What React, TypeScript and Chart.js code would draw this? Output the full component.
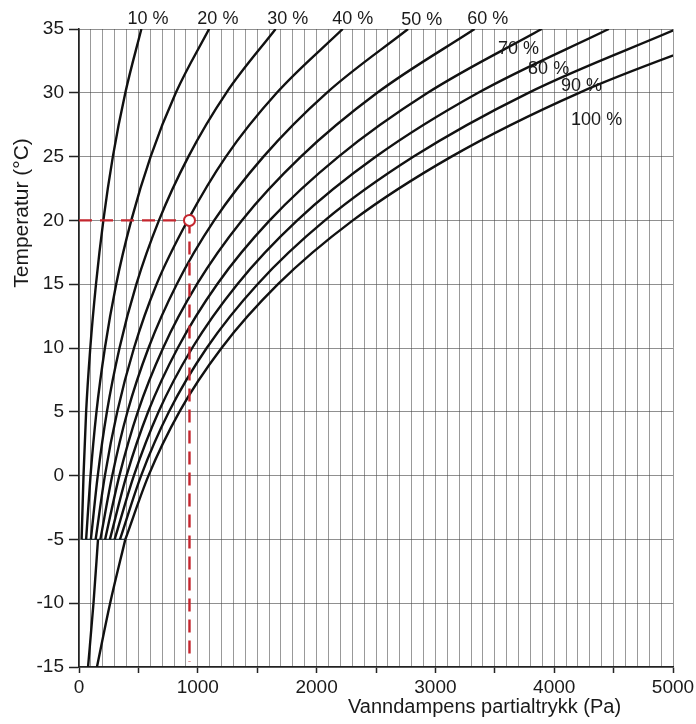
import React, { useEffect, useRef } from "react";
import { Chart, registerables } from "chart.js";

Chart.register(...registerables);

// Temperatures (°C) at which the curves were read
const temps = [-5, 0, 5, 10, 15, 20, 25, 30, 35];

// Partial pressure (Pa) read for each relative humidity curve
const rh10 = [22, 38, 60, 95, 143, 205, 285, 390, 525];
const rh20 = [60, 97, 147, 218, 313, 440, 603, 815, 1095];
const rh30 = [100, 158, 235, 341, 483, 673, 921, 1240, 1655];
const rh40 = [140, 218, 322, 463, 653, 915, 1237, 1665, 2220];
const rh50 = [180, 280, 408, 585, 823, 1138, 1553, 2085, 2770];
const rh60 = [220, 340, 495, 708, 993, 1371, 1868, 2510, 3330];
const rh70 = [260, 400, 582, 831, 1163, 1605, 2185, 2935, 3895];
const rh80 = [300, 462, 670, 953, 1333, 1837, 2500, 3360, 4460];
const rh90 = [345, 523, 757, 1075, 1503, 2070, 2817, 3783, 5030];
const rh100 = [390, 585, 845, 1200, 1675, 2305, 3135, 4210, 5600];

// Curves below -5 °C
const lowTemps = [-15, -10, -5];
const lowLeft = [76, 122, 160];
const lowRight = [151, 262, 390];

// Base line at -5 °C
const baseTemp = -5;
const baseFrom = 22;
const baseTo = 390;

// Highlighted point
const markerP = 930;
const markerT = 20;

// Curve labels
const labelTexts = ["10 %", "20 %", "30 %", "40 %", "50 %", "60 %", "70 %", "80 %", "90 %", "100 %"];
const labelP = [580, 1169, 1758, 2305, 2885, 3440, 3700, 3953, 4230, 4357];
const labelT = [35.8, 35.8, 35.8, 35.8, 35.7, 35.8, 33.4, 31.9, 30.5, 27.9];

const xMin = 0;
const xMax = 5000;
const yMin = -15;
const yMax = 35;

const curves = [rh10, rh20, rh30, rh40, rh50, rh60, rh70, rh80, rh90, rh100];

const FONT = "'Liberation Sans', Arial, sans-serif";
const RED = "#c4262e";

export default function App() {
  const ref = useRef<HTMLCanvasElement | null>(null);

  useEffect(() => {
    document.body.style.margin = "0";
    const canvas = ref.current;
    if (!canvas) return;

    const curveSets = curves.map((arr, i) => ({
      label: labelTexts[i],
      data: arr.map((p, j) => ({ x: p, y: temps[j] })),
      borderColor: "#111",
      borderWidth: 2.4,
      pointRadius: 0,
      cubicInterpolationMode: "monotone" as const,
      fill: false,
      order: 5,
    }));

    const lowSets = [lowLeft, lowRight].map((arr) => ({
      label: "low",
      data: arr.map((p, j) => ({ x: p, y: lowTemps[j] })),
      borderColor: "#111",
      borderWidth: 2.4,
      pointRadius: 0,
      cubicInterpolationMode: "monotone" as const,
      fill: false,
      order: 5,
    }));

    const baseSet = {
      label: "base",
      data: [
        { x: baseFrom, y: baseTemp },
        { x: baseTo, y: baseTemp },
      ],
      borderColor: "#24343a",
      borderWidth: 1.4,
      pointRadius: 0,
      fill: false,
      order: 6,
    };

    const redH = {
      label: "redH",
      data: [
        { x: xMin, y: markerT },
        { x: markerP, y: markerT },
      ],
      borderColor: RED,
      borderWidth: 2.4,
      borderDash: [13, 8],
      pointRadius: 0,
      fill: false,
      order: 2,
    };
    const redV = {
      label: "redV",
      data: [
        { x: markerP, y: markerT },
        { x: markerP, y: yMin + 0.4 },
      ],
      borderColor: RED,
      borderWidth: 2.4,
      borderDash: [13, 8],
      pointRadius: 0,
      fill: false,
      order: 2,
    };
    const marker = {
      label: "marker",
      data: [{ x: markerP, y: markerT }],
      showLine: false,
      borderColor: RED,
      backgroundColor: "#ffffff",
      borderWidth: 2,
      pointRadius: 5.5,
      pointStyle: "circle",
      order: 0,
    };

    const textPlugin = {
      id: "texts",
      afterDraw(chart: any) {
        const { ctx, scales } = chart;
        const xs = scales.x;
        const ys = scales.y;
        ctx.save();
        ctx.fillStyle = "#1a1a1a";
        ctx.font = `18px ${FONT}`;
        ctx.textAlign = "center";
        ctx.textBaseline = "middle";
        labelTexts.forEach((t, i) => {
          const px = xs.getPixelForValue(labelP[i]);
          const py = ys.getPixelForValue(labelT[i]);
          ctx.fillText(t, px, py);
        });
        // axis titles
        ctx.font = `20px ${FONT}`;
        ctx.textAlign = "left";
        ctx.textBaseline = "alphabetic";
        ctx.fillText("Vanndampens partialtrykk (Pa)", 348, 713);
        ctx.font = `21px ${FONT}`;
        ctx.translate(22, 213);
        ctx.rotate(-Math.PI / 2);
        ctx.textAlign = "center";
        ctx.textBaseline = "middle";
        ctx.fillText("Temperatur (°C)", 0, 0);
        ctx.restore();
      },
    };

    const chart = new Chart(canvas, {
      type: "line",
      data: {
        datasets: [marker, redH, redV, ...curveSets, ...lowSets, baseSet] as any,
      },
      options: {
        animation: false,
        responsive: false,
        maintainAspectRatio: false,
        layout: { padding: { top: 29, right: 23, left: 0, bottom: 0 } },
        plugins: {
          legend: { display: false },
          tooltip: { enabled: false },
          title: { display: false },
        },
        scales: {
          x: {
            type: "linear",
            min: xMin,
            max: xMax,
            ticks: {
              stepSize: 100,
              autoSkip: false,
              maxRotation: 0,
              includeBounds: true,
              padding: 3,
              color: "#1a1a1a",
              font: { size: 19, family: FONT },
              callback: (v: any) => (Number(v) % 1000 === 0 ? String(v) : ""),
            },
            grid: {
              color: "rgba(70,70,70,0.55)",
              lineWidth: 1,
              tickLength: 6,
              tickColor: (c: any) =>
                c.tick && Math.round(c.tick.value) % 500 === 0 ? "#222" : "rgba(0,0,0,0)",
              tickWidth: 1.5,
            },
            border: { display: true, color: "#222", width: 1.6 },
            afterFit: (s: any) => {
              s.height = 57;
              s.paddingLeft = 0;
              s.paddingRight = 0;
            },
          },
          y: {
            type: "linear",
            min: yMin,
            max: yMax,
            ticks: {
              stepSize: 5,
              padding: 5,
              color: "#1a1a1a",
              font: { size: 19, family: FONT },
            },
            grid: {
              color: "rgba(70,70,70,0.6)",
              lineWidth: 1,
              tickLength: 10,
              tickColor: "#222",
              tickWidth: 1.5,
            },
            border: { display: true, color: "#222", width: 1.6 },
            afterFit: (s: any) => {
              s.width = 79;
              s.paddingTop = 0;
              s.paddingBottom = 0;
            },
          },
        },
      },
      plugins: [textPlugin],
    });

    return () => chart.destroy();
  }, []);

  return (
    <div style={{ width: 696, height: 724, position: "relative", background: "#fff" }}>
      <canvas ref={ref} width={696} height={724} style={{ width: 696, height: 724, display: "block" }} />
    </div>
  );
}
